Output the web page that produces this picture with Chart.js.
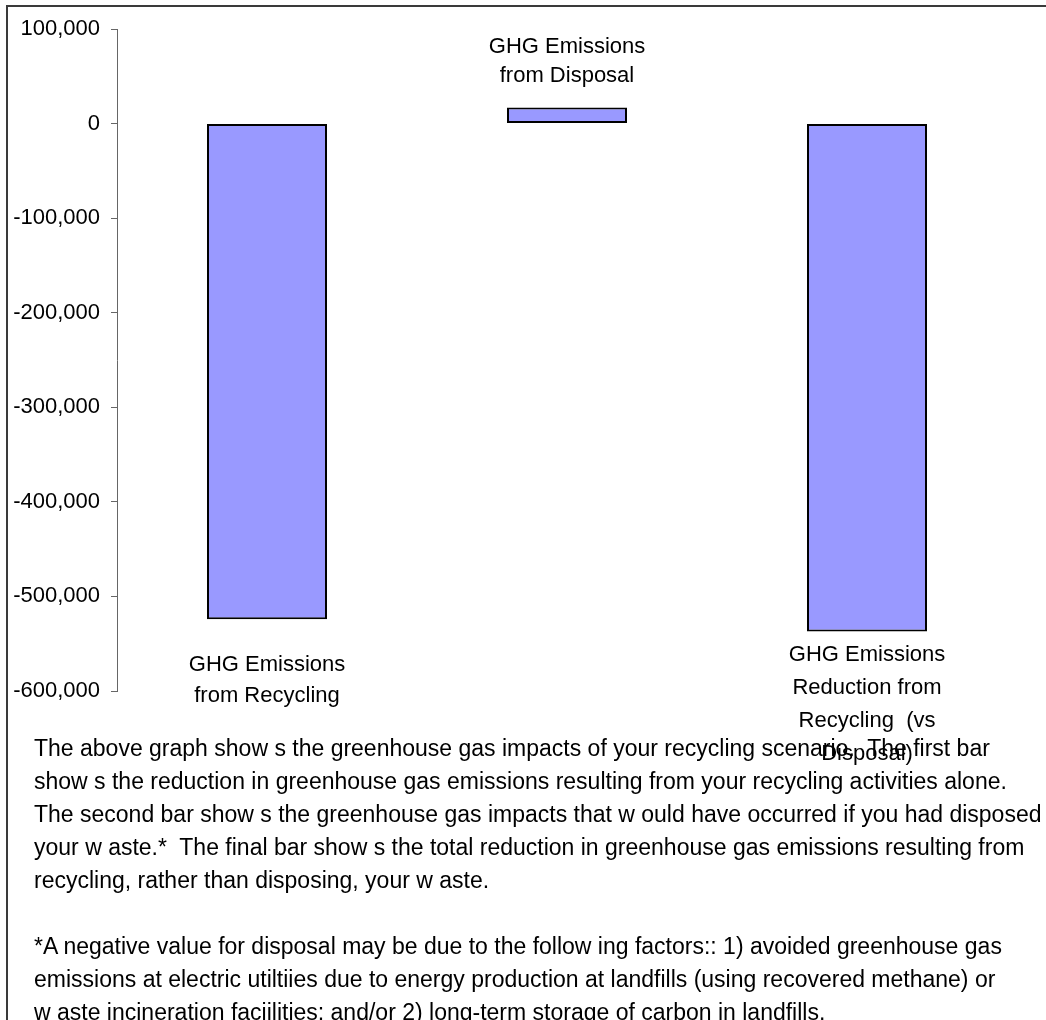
<!DOCTYPE html>
<html>
<head>
<meta charset="utf-8">
<script src="https://cdn.jsdelivr.net/npm/chart.js@4"></script>
<style>
  html, body {
    margin: 0;
    padding: 0;
    background: #fff;
    width: 1046px;
    height: 1020px;
    overflow: hidden;
    font-family: 'Liberation Sans', Arial, sans-serif;
  }
  .frame {
    position: absolute;
    left: 6px;
    top: 5px;
    width: 1046px;
    height: 1030px;
    border-left: 2px solid #3a3a3a;
    border-top: 2px solid #3a3a3a;
  }
  #chart {
    position: absolute;
    left: 0;
    top: 0;
  }
  .note {
    position: absolute;
    left: 34px;
    top: 732px;
    font-size: 23px;
    line-height: 33px;
    color: #000;
    white-space: pre;
  }
</style>
</head>
<body>
<div class="frame"></div>
<canvas id="chart" width="1046" height="780"></canvas>
<div class="note" id="note"></div>

<script>
  // bar categories (drawn as multi-line labels next to each bar end)
  const categories = [
    ['GHG Emissions', 'from Recycling'],
    ['GHG Emissions', 'from Disposal'],
    ['GHG Emissions', 'Reduction from', 'Recycling  (vs', 'Disposal)'],
  ];

  // MTCO2E
  const emissions = [-524000, 17000, -537000];

  const yTicks = [100000, 0, -100000, -200000, -300000, -400000, -500000, -600000];

  const noteLines = [
    'The above graph show s the greenhouse gas impacts of your recycling scenario.  The first bar',
    'show s the reduction in greenhouse gas emissions resulting from your recycling activities alone.',
    'The second bar show s the greenhouse gas impacts that w ould have occurred if you had disposed',
    'your w aste.*  The final bar show s the total reduction in greenhouse gas emissions resulting from',
    'recycling, rather than disposing, your w aste.',
    '',
    '*A negative value for disposal may be due to the follow ing factors:: 1) avoided greenhouse gas',
    'emissions at electric utiltiies due to energy production at landfills (using recovered methane) or',
    'w aste incineration faciilities; and/or 2) long-term storage of carbon in landfills.',
  ];

  // distance from the bar end to the nearest label line, and line spacing
  const labelGap = [46, 32, 24];
  const labelLine = [31, 29, 33];

  const LABEL_FONT = '22px "Liberation Sans", Arial, sans-serif';

  document.getElementById('note').textContent = noteLines.join('\n');

  const barLabels = {
    id: 'barLabels',
    afterDatasetsDraw(chart) {
      const ctx = chart.ctx;
      const meta = chart.getDatasetMeta(0);
      ctx.save();
      ctx.font = LABEL_FONT;
      ctx.fillStyle = '#000';
      ctx.textAlign = 'center';
      ctx.textBaseline = 'middle';
      meta.data.forEach((bar, i) => {
        const lines = categories[i];
        const up = emissions[i] > 0;
        lines.forEach((line, j) => {
          const y = up
            ? bar.y - labelGap[i] - (lines.length - 1 - j) * labelLine[i]
            : bar.y + labelGap[i] + j * labelLine[i];
          ctx.fillText(line, bar.x, y);
        });
      });
      ctx.restore();
    },
  };

  new Chart(document.getElementById('chart').getContext('2d'), {
    type: 'bar',
    data: {
      labels: categories.map((c) => c.join(' ')),
      datasets: [
        {
          data: emissions,
          backgroundColor: '#9999ff',
          borderColor: '#000',
          borderWidth: 2,
          borderSkipped: false,
          barPercentage: 0.4,
          categoryPercentage: 1,
        },
      ],
    },
    options: {
      responsive: false,
      animation: false,
      layout: {
        padding: { top: 29, right: 29, bottom: 89, left: 0 },
      },
      plugins: {
        legend: { display: false },
        tooltip: { enabled: false },
      },
      scales: {
        x: { display: false },
        y: {
          min: -600000,
          max: 100000,
          afterFit: (scale) => {
            scale.width = 117;
          },
          afterBuildTicks: (scale) => {
            scale.ticks = yTicks.map((v) => ({ value: v }));
          },
          border: { display: true, color: '#666', width: 1 },
          grid: {
            drawOnChartArea: false,
            drawTicks: true,
            tickLength: 6,
            color: '#666',
          },
          ticks: {
            padding: 11,
            color: '#000',
            font: { family: '"Liberation Sans", Arial, sans-serif', size: 22 },
            callback: (v) => v.toLocaleString('en-US'),
          },
        },
      },
    },
    plugins: [barLabels],
  });
</script>
</body>
</html>
